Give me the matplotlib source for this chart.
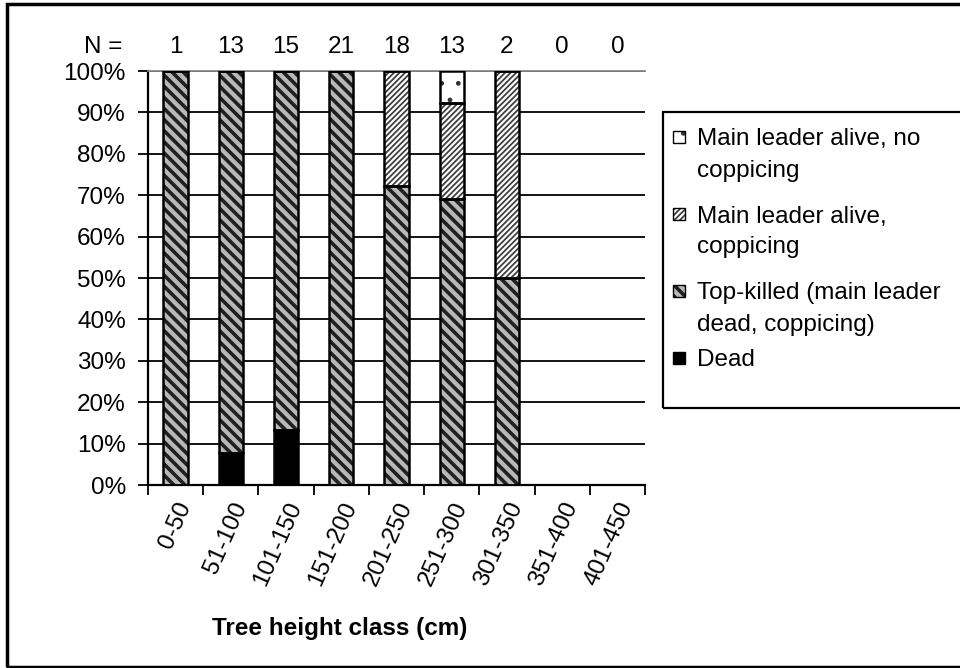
import matplotlib
matplotlib.use("Agg")
import matplotlib.pyplot as plt
from matplotlib.patches import Rectangle
import matplotlib.transforms as mtransforms
import numpy as np

plt.rcParams['font.family'] = ['Liberation Sans', 'DejaVu Sans']

categories = ["0-50", "51-100", "101-150", "151-200", "201-250", "251-300",
              "301-350", "351-400", "401-450"]
n_counts = [1, 13, 15, 21, 18, 13, 2, 0, 0]
dead = [0, 7.7, 13.3, 0, 0, 0, 0, 0, 0]
top_killed = [100, 92.3, 86.7, 100, 72.2, 69.2, 50, 0, 0]
alive_coppicing = [0, 0, 0, 0, 27.8, 23.1, 50, 0, 0]
alive_no_coppicing = [0, 0, 0, 0, 0, 7.7, 0, 0, 0]

series = [
    ("Dead", dead, dict(face="black", hatch=None, hcol="black", hlw=1.0)),
    ("Top-killed (main leader\ndead, coppicing)", top_killed,
     dict(face="#b8b8b8", hatch="\\\\\\", hcol="#202020", hlw=2.6)),
    ("Main leader alive,\ncoppicing", alive_coppicing,
     dict(face="white", hatch="//////", hcol="#404040", hlw=1.3)),
    ("Main leader alive, no\ncoppicing", alive_no_coppicing,
     dict(face="white", hatch=".", hcol="#333333", hlw=1.0)),
]

FS = 17.5
W, H = 960, 668
fig = plt.figure(figsize=(9.6, 6.68), dpi=100)
ax = fig.add_axes([148/W, 1-485/H, (645-148)/W, (485-71)/H])

x = np.arange(len(categories))
width = 0.44
bottom = np.zeros(len(categories))
for label, vals, st in series:
    vals = np.array(vals, dtype=float)
    plt.rcParams['hatch.linewidth'] = st["hlw"]
    ax.bar(x, vals, width, bottom=bottom, color=st["face"], hatch=st["hatch"],
           edgecolor=st["hcol"], linewidth=0, zorder=3)
    ax.bar(x, vals, width, bottom=bottom, fill=False, edgecolor="black",
           linewidth=1.8, zorder=4)
    bottom += vals

ax.set_xlim(-0.5, len(categories) - 0.5)
ax.set_ylim(0, 100)
ax.set_yticks(np.arange(0, 101, 10))
ax.set_yticklabels([f"{v}%" for v in range(0, 101, 10)], fontsize=FS)
ax.yaxis.grid(True, color="black", linewidth=1.3, zorder=1)
ax.set_axisbelow(True)

ax.set_xticks(x)
ax.set_xticklabels(categories, rotation=66, ha="right", rotation_mode="anchor",
                   fontsize=FS)
shift = mtransforms.ScaledTranslation(-5/100, 0, fig.dpi_scale_trans)
for lbl in ax.get_xticklabels():
    lbl.set_transform(lbl.get_transform() + shift)
ax.tick_params(axis="x", which="major", length=0, pad=10)
ax.set_xticks(np.arange(-0.5, len(categories), 1.0), minor=True)
ax.tick_params(axis="x", which="minor", length=7, width=1.3, direction="out")
ax.tick_params(axis="y", length=7, width=1.3, direction="out", pad=9)

for s in ["left", "bottom"]:
    ax.spines[s].set_linewidth(1.6)
ax.spines["right"].set_visible(False)
ax.spines["top"].set_color("#888888")
ax.spines["top"].set_linewidth(1.3)

# N counts
trans = mtransforms.blended_transform_factory(ax.transData, ax.transAxes)
ytop = 1 + 24/414
fig.text(103/W, 1-47/H, "N =", ha="center", va="center", fontsize=FS)
for xi, n in zip(x, n_counts):
    ax.text(xi, ytop, str(n), transform=trans, ha="center", va="center", fontsize=FS)

fig.text(340/W, 1-628/H, "Tree height class (cm)", ha="center", va="center",
         fontsize=FS, fontweight="bold")

# legend (drawn manually for exact spacing)
leg_first_line_y = [137, 214, 291, 358]
line_gap = 31
sq = 12
for (label, vals, st), yl in zip(series[::-1], leg_first_line_y):
    plt.rcParams['hatch.linewidth'] = st["hlw"]
    fig.patches.append(Rectangle((673/W, 1-(yl+sq/2)/H), sq/W, sq/H,
                                 transform=fig.transFigure, facecolor=st["face"],
                                 hatch=st["hatch"], edgecolor=st["hcol"], linewidth=0))
    fig.patches.append(Rectangle((673/W, 1-(yl+sq/2)/H), sq/W, sq/H,
                                 transform=fig.transFigure, fill=False,
                                 edgecolor="black", linewidth=1.0))
    for i, line in enumerate(label.split("\n")):
        fig.text(697/W, 1-(yl + i*line_gap)/H, line,
                 ha="left", va="center_baseline", fontsize=FS)
fig.patches.append(Rectangle((663/W, 1-408/H), 0.5, (408-112)/H,
                             transform=fig.transFigure, fill=False,
                             edgecolor="black", linewidth=1.6))

# outer border
fig.patches.append(Rectangle((7/W, 1/H), 1.2, 1-5/H, transform=fig.transFigure,
                             fill=False, edgecolor="black", linewidth=2.5))

fig.savefig("out.png", dpi=100)
